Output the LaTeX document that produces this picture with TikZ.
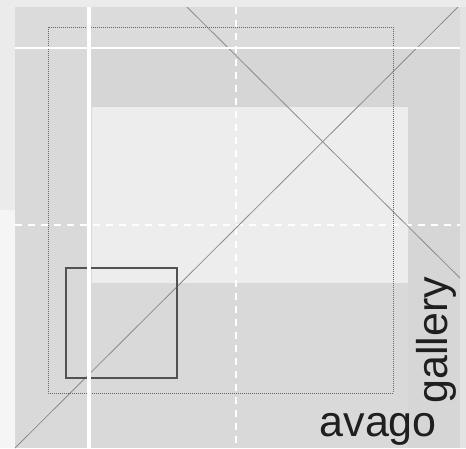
\documentclass[tikz,border=0pt]{standalone}
\usepackage{fontspec}
\setmainfont{Liberation Sans}
\usetikzlibrary{positioning}

\begin{document}
\begin{tikzpicture}[
  x=1pt, y=-1pt,
  panel/.style={draw=none},
  guideline/.style={draw=white, line width=3.5pt},
  guidedash/.style={draw=white, line width=2.5pt, dash pattern=on 7pt off 6pt},
  cropmark/.style={draw=black!60, line width=0.8pt, dash pattern=on 0.8pt off 1.2pt},
  crossline/.style={draw=black!45, line width=0.8pt},
  frame/.style={draw=black!68, line width=1.9pt},
  logotext/.style={font=\fontsize{43}{43}\selectfont, text=black!88, inner sep=0pt},
]

% Backdrop and bounding box
\fill[black!8] (0,0) rectangle (466,448);
\useasboundingbox (0,0) rectangle (466,448);
\fill[black!4] (0,210) rectangle (15,448);
\fill[black!11] (460,7) rectangle (466,448);

% Grey panels
\fill[panel, black!15] (15,7) rectangle (460,448);
\fill[panel, black!14] (15,7) rectangle (460,48);
\fill[panel, black!16] (92,48) rectangle (408,107);
\fill[panel, black!7] (92,107) rectangle (408,283);
\fill[panel, black!16] (408,48) rectangle (460,448);

% Dashed white guides
\draw[guidedash] (236,7) -- (236,448);
\draw[guidedash] (15,225) -- (460,225);

% Crossing diagonals
\begin{scope}
  \clip (15,7) rectangle (460,448);
  \draw[crossline] (187,7) -- (462,280);
  \draw[crossline] (458,7) -- (15,448);
\end{scope}

% Dotted crop frame and the small square
\draw[cropmark] (48,27) rectangle (393,393);
\draw[frame] (66,268) rectangle (177,378);

% Solid white guides on top
\draw[guideline, line width=2.2pt] (15,48) -- (460,48);
\draw[guideline] (89,7) -- (89,448);

% Wordmark
\node[logotext, anchor=base east] (avago) at (437,436) {avago};
\node[logotext, rotate=90, anchor=base west] (gallery) at (447,404) {gallery};

\end{tikzpicture}
\end{document}
